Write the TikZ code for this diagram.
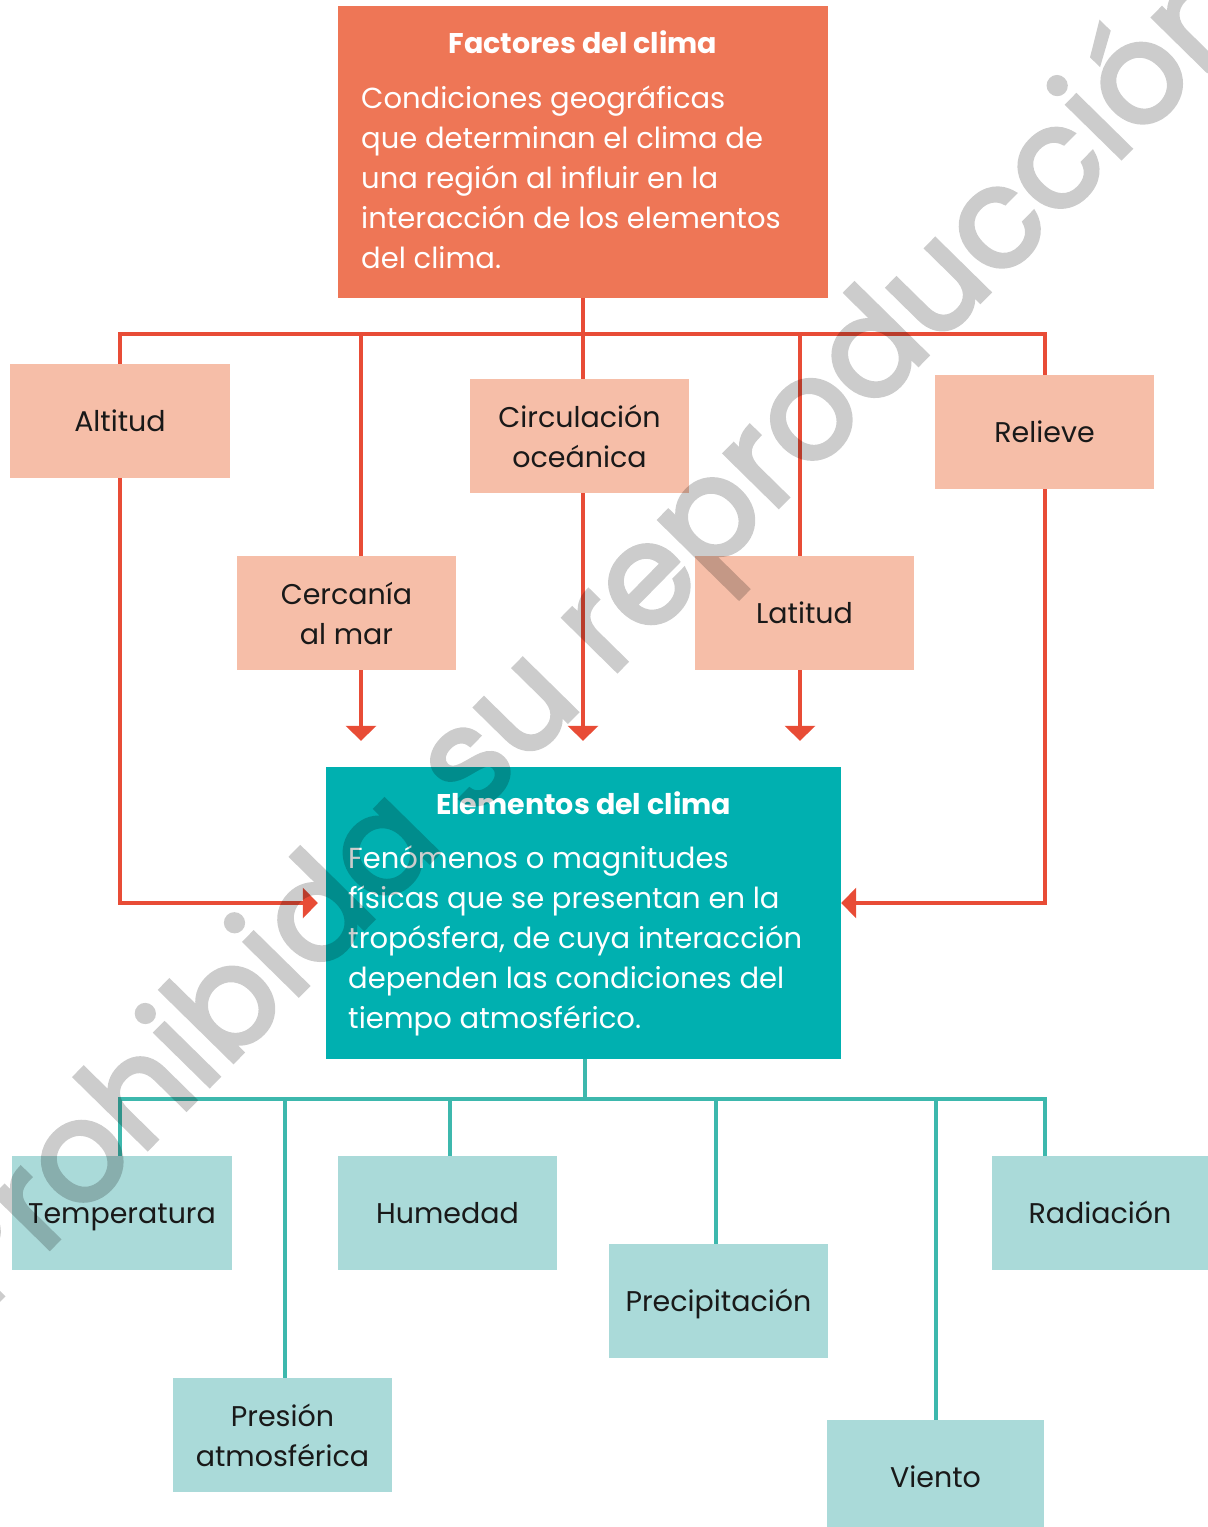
\documentclass[tikz,border=0pt]{standalone}
\usepackage{fontspec}
\setmainfont{Poppins}
\newfontfamily\wmfont{Poppins}[FakeBold=3]
\usetikzlibrary{arrows.meta}
\definecolor{facfill}{HTML}{EE7656}
\definecolor{redline}{HTML}{E84C36}
\definecolor{salmon}{HTML}{F6BEA8}
\definecolor{elefill}{HTML}{00B0B0}
\definecolor{tealline}{HTML}{3DB8AD}
\definecolor{lteal}{HTML}{AADAD9}
\begin{document}
\begin{tikzpicture}[x=1pt,y=-1pt,
  box/.style={inner sep=0pt, minimum width=219pt, minimum height=114pt, align=center,
    font=\fontsize{28.5}{40}\selectfont, text=black!90},
  one/.style={text height=20pt, text depth=0pt},
  fbox/.style={box, fill=salmon},
  ebox/.style={box, fill=lteal},
  bigtitle/.style={font=\fontsize{28.5}{40}\selectfont\bfseries, text=white},
  bigbody/.style={font=\fontsize{29}{40}\selectfont, text=white, align=left, inner sep=0pt, anchor=west},
  rline/.style={draw=redline, line width=4pt},
  tline/.style={draw=tealline, line width=4pt},
  tip/.style={-{Triangle[width=30pt,length=15pt]}},
]
\useasboundingbox (0,0) rectangle (1208,1527);
% main boxes
\node[fill=facfill, minimum width=490pt, minimum height=292pt, inner sep=0pt] (fac) at (583,152) {};
\node[bigtitle] (facT) at (583,42) {Factores del clima};
\node[bigbody] (facB) at (361,177) {Condiciones geográficas\\que determinan el clima de\\una región al influir en la\\interacción de los elementos\\del clima.};
\node[fill=elefill, minimum width=515pt, minimum height=292pt, inner sep=0pt] (ele) at (583.5,913) {};
\node[bigtitle] (eleT) at (583.5,803) {Elementos del clima};
\node[bigbody] (eleB) at (348,941) {Fenómenos o magnitudes\\físicas que se presentan en la\\tropósfera, de cuya interacción\\dependen las condiciones del\\tiempo atmosférico.};
% factor boxes
\node[fbox, one, minimum width=220pt] (alt) at (120,421) {Altitud};
\node[fbox] (cer) at (346.5,613) {Cercanía\\al mar};
\node[fbox] (cir) at (579.5,436) {Circulación\\oceánica};
\node[fbox, one] (lat) at (804.5,613) {Latitud};
\node[fbox, one] (rel) at (1044.5,432) {Relieve};
% element boxes
\node[ebox, one, minimum width=220pt] (tem) at (122,1213) {Temperatura};
\node[ebox] (pre) at (282.5,1435) {Presión\\atmosférica};
\node[ebox, one] (hum) at (447.5,1213) {Humedad};
\node[ebox, one] (prc) at (718.5,1301) {Precipitación};
\node[ebox, one, minimum width=217pt] (vie) at (935.5,1477) {Viento};
\node[ebox, one, minimum width=216pt] (rad) at (1100,1213) {Radiación};
% red connectors
\coordinate (rtop) at (583,334);
\coordinate (altN) at (alt.north);
\coordinate (relN) at (rel.north);
\coordinate (cerN) at ([xshift=14.5pt]cer.north);
\coordinate (cerS) at ([xshift=14.5pt]cer.south);
\coordinate (cirN) at ([xshift=3.5pt]cir.north);
\coordinate (cirS) at ([xshift=3.5pt]cir.south);
\coordinate (latN) at ([xshift=-4.5pt]lat.north);
\coordinate (latS) at ([xshift=-4.5pt]lat.south);
\coordinate (eleW) at ([yshift=10pt]ele.west);
\coordinate (eleE) at ([yshift=10pt]ele.east);
\draw[rline] (fac.south) -- (rtop);
\draw[rline, line join=miter] (altN) -- (altN |- rtop) -- (relN |- rtop) -- (relN);
\draw[rline] (cerN) -- (cerN |- rtop);
\draw[rline] (cirN) -- (cirN |- rtop);
\draw[rline] (latN) -- (latN |- rtop);
\draw[rline, tip, shorten >=26pt] (cerS) -- (cerS |- ele.north);
\draw[rline, tip, shorten >=26pt] (cirS) -- (cirS |- ele.north);
\draw[rline, tip, shorten >=26pt] (latS) -- (latS |- ele.north);
\draw[rline, tip, line join=miter, shorten >=8pt] (alt.south) |- (eleW);
\draw[rline, tip, line join=miter] (rel.south) |- (eleE);
% teal connectors
\coordinate (ttop) at (585,1099);
\coordinate (temN) at ([xshift=-2pt]tem.north);
\coordinate (radN) at ([xshift=-55pt]rad.north);
\coordinate (preN) at ([xshift=2.5pt]pre.north);
\coordinate (humN) at ([xshift=2.5pt]hum.north);
\coordinate (prcN) at ([xshift=-2.5pt]prc.north);
\coordinate (vieN) at ([xshift=0.5pt]vie.north);
\coordinate (eleS) at ([xshift=1.5pt]ele.south);
\draw[tline] (eleS) -- (eleS |- ttop);
\draw[tline, line join=miter] (temN) -- (temN |- ttop) -- (radN |- ttop) -- (radN);
\draw[tline] (preN) -- (preN |- ttop);
\draw[tline] (humN) -- (humN |- ttop);
\draw[tline] (prcN) -- (prcN |- ttop);
\draw[tline] (vieN) -- (vieN |- ttop);
% watermark
\begin{scope}[transparency group, opacity=0.2]
\node[rotate=45.5, anchor=base, text=black, inner sep=0pt,
  font=\wmfont\fontsize{138}{138}\selectfont] (wm) at (624,664) {Prohibida su reproducción};
\end{scope}
\end{tikzpicture}
\end{document}
